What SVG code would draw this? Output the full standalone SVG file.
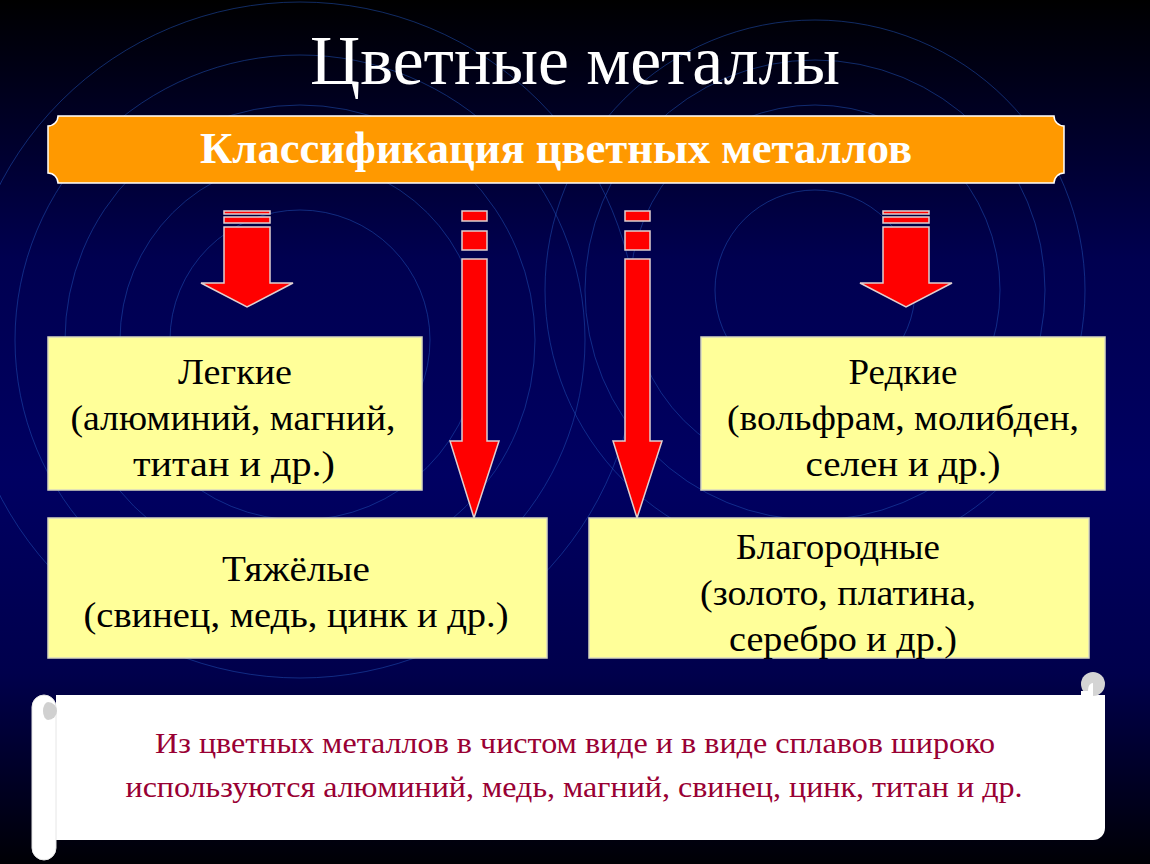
<svg xmlns="http://www.w3.org/2000/svg" width="1150" height="864" viewBox="0 0 1150 864">
<defs>
<linearGradient id="bg" x1="0" y1="0" x2="0" y2="1">
<stop offset="0" stop-color="#000000"/>
<stop offset="0.3" stop-color="#000050"/>
<stop offset="0.55" stop-color="#000062"/>
<stop offset="0.78" stop-color="#00004c"/>
<stop offset="1" stop-color="#000005"/>
</linearGradient>
<style>
.ring{fill:none;stroke:#1f4fb0;stroke-opacity:0.55;stroke-width:1}
.box{fill:#FFFF99;stroke:#d8d8c0;stroke-width:1.5}
.arr{fill:#FF0000;stroke:#e0d0d0;stroke-width:1.5}
.bt{font-family:"Liberation Serif","Times New Roman",serif;font-size:35px;fill:#000;text-anchor:middle}
.st{font-family:"Liberation Serif","Times New Roman",serif;font-size:30px;fill:#990033;text-anchor:middle}
</style>
</defs>
<rect width="1150" height="864" fill="url(#bg)"/>
<g id="rings">
<circle class="ring" cx="300" cy="340" r="130"/>
<circle class="ring" cx="300" cy="340" r="180"/>
<circle class="ring" cx="300" cy="340" r="235"/>
<circle class="ring" cx="300" cy="340" r="285"/>
<circle class="ring" cx="300" cy="340" r="338"/>
<circle class="ring" cx="815" cy="290" r="100"/>
<circle class="ring" cx="815" cy="290" r="185"/>
<circle class="ring" cx="815" cy="290" r="230"/>
<circle class="ring" cx="815" cy="290" r="270"/>
</g>
<text id="title" x="575" y="84" font-family="Liberation Serif, Times New Roman, serif" font-size="70" fill="#ffffff" text-anchor="middle" textLength="530" lengthAdjust="spacingAndGlyphs">Цветные металлы</text>
<g id="banner">
<path d="M58,116 H1054 A10,10 0 0 0 1064,126 V173 A10,10 0 0 0 1054,183 H58 A10,10 0 0 0 48,173 V126 A10,10 0 0 0 58,116 Z" fill="#FF9900" stroke="#ffffff" stroke-width="1.5"/>
<text x="556" y="163" font-family="Liberation Serif, Times New Roman, serif" font-size="44" font-weight="bold" fill="#ffffff" text-anchor="middle" textLength="712" lengthAdjust="spacingAndGlyphs">Классификация цветных металлов</text>
</g>
<g id="connectors">
<g id="arrow-left">
<rect class="arr" x="224" y="211" width="46" height="3"/>
<rect class="arr" x="224" y="217" width="46" height="6"/>
<path class="arr" d="M224,227 H270 V283 H293 L247,307 L201,283 H224 Z"/>
</g>
<g id="arrow-right">
<rect class="arr" x="883" y="211" width="46" height="3"/>
<rect class="arr" x="883" y="217" width="46" height="6"/>
<path class="arr" d="M883,227 H929 V283 H952 L906,307 L860,283 H883 Z"/>
</g>
<g id="arrow-heavy">
<rect class="arr" x="462" y="211" width="25" height="10"/>
<rect class="arr" x="462" y="231" width="25" height="19"/>
<path class="arr" d="M462,259 H487 V441 H499 L474,518 L450,441 H462 Z"/>
</g>
<g id="arrow-noble">
<rect class="arr" x="625" y="211" width="25" height="10"/>
<rect class="arr" x="625" y="231" width="25" height="19"/>
<path class="arr" d="M625,259 H650 V441 H662 L637,518 L613,441 H625 Z"/>
</g>
</g>
<g id="light">
<rect class="box" x="48" y="337" width="374" height="153"/>
<text class="bt" x="235" y="384" textLength="114" lengthAdjust="spacingAndGlyphs">Легкие</text>
<text class="bt" x="233" y="430" textLength="325" lengthAdjust="spacingAndGlyphs">(алюминий, магний,</text>
<text class="bt" x="234" y="476" textLength="202" lengthAdjust="spacingAndGlyphs">титан и др.)</text>
</g>
<g id="rare">
<rect class="box" x="701" y="337" width="404" height="153"/>
<text class="bt" x="903" y="384" textLength="109" lengthAdjust="spacingAndGlyphs">Редкие</text>
<text class="bt" x="903" y="430" textLength="352" lengthAdjust="spacingAndGlyphs">(вольфрам, молибден,</text>
<text class="bt" x="903" y="476" textLength="195" lengthAdjust="spacingAndGlyphs">селен и др.)</text>
</g>
<g id="heavy">
<rect class="box" x="48" y="518" width="499" height="140"/>
<text class="bt" x="296" y="581" textLength="148" lengthAdjust="spacingAndGlyphs">Тяжёлые</text>
<text class="bt" x="296" y="627" textLength="425" lengthAdjust="spacingAndGlyphs">(свинец, медь, цинк и др.)</text>
</g>
<g id="noble">
<rect class="box" x="589" y="518" width="500" height="140"/>
<text class="bt" x="838" y="559" textLength="204" lengthAdjust="spacingAndGlyphs">Благородные</text>
<text class="bt" x="838" y="605" textLength="276" lengthAdjust="spacingAndGlyphs">(золото, платина,</text>
<text class="bt" x="843" y="651" textLength="228" lengthAdjust="spacingAndGlyphs">серебро и др.)</text>
</g>
<g id="scroll">
<path d="M56,695 H1105 V828 A12,12 0 0 1 1093,840 H56 Z" fill="#ffffff"/>
<circle cx="1093" cy="684" r="12" fill="#d4d4d4"/>
<rect x="1081" y="691" width="12" height="5" fill="#ffffff"/>
<path d="M1093,683 A5,7 0 0 0 1093,697 Z" fill="#ffffff"/>
<rect x="32" y="695" width="24" height="165" rx="12" fill="#ffffff" stroke="#e6e6e6" stroke-width="1"/>
<path d="M48,702 A9,9 0 0 1 48,720 A5,9 0 0 1 48,702 Z" fill="#d0d0d0"/>
<text class="st" x="575" y="753" textLength="840" lengthAdjust="spacingAndGlyphs">Из цветных металлов в чистом виде и в виде сплавов широко</text>
<text class="st" x="574" y="797" textLength="897" lengthAdjust="spacingAndGlyphs">используются алюминий, медь, магний, свинец, цинк, титан и др.</text>
</g>
</svg>
